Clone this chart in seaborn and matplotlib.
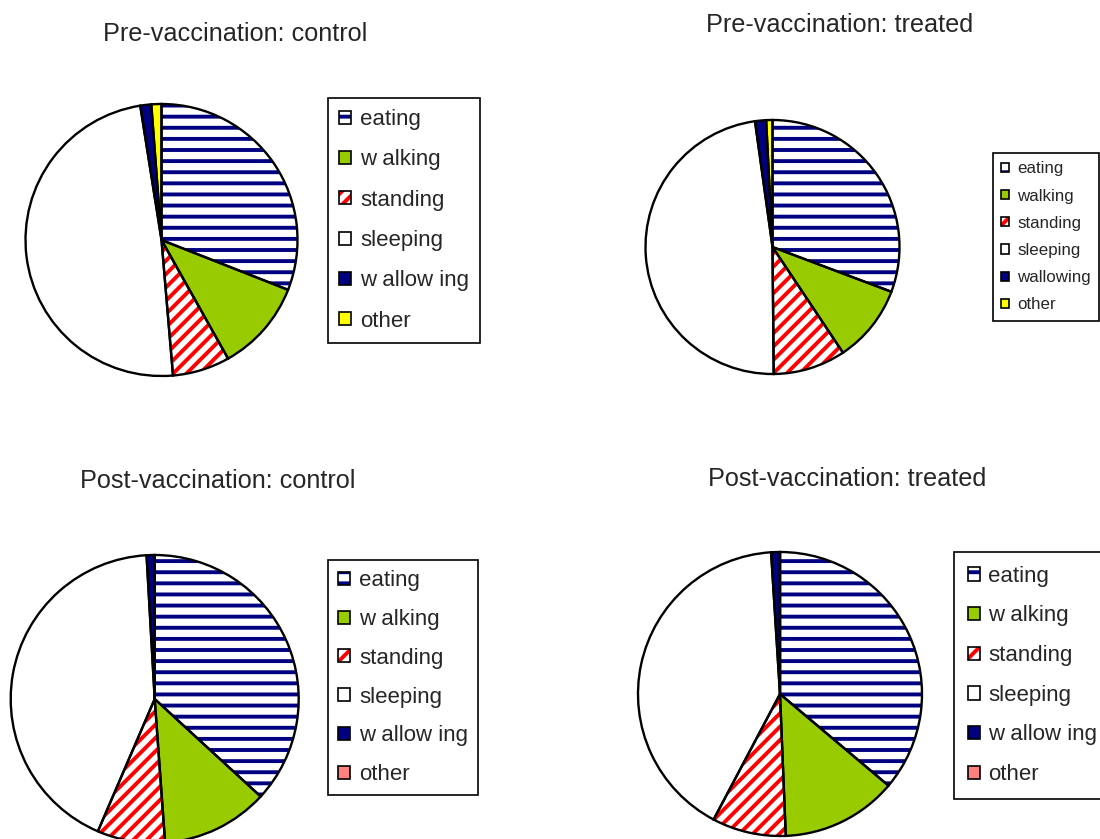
import matplotlib
matplotlib.use("Agg")
import matplotlib.pyplot as plt
import seaborn as sns
from matplotlib.patches import Patch
from matplotlib.legend_handler import HandlerTuple

# --- data (percent of time per behaviour) ---
behaviours = ["eating", "walking", "standing", "sleeping", "wallowing", "other"]
labels_spaced = ["eating", "w alking", "standing", "sleeping", "w allow ing", "other"]

pre_control = [31.0, 10.9, 6.8, 48.9, 1.3, 1.2]
pre_treated = [30.7, 9.9, 9.2, 47.9, 1.4, 0.8]
post_control = [36.8, 12.0, 7.6, 42.6, 0.9, 0.0]
post_treated = [36.2, 13.2, 8.4, 41.3, 1.0, 0.0]

titles = ["Pre-vaccination: control", "Pre-vaccination: treated",
          "Post-vaccination: control", "Post-vaccination: treated"]

# --- style ---
sns.set_theme(style="white")
plt.rcParams["font.family"] = ["Liberation Sans", "DejaVu Sans"]
plt.rcParams["hatch.linewidth"] = 1.4

fills_pre = sns.color_palette(["#FFFFFF", "#99CC00", "#FFFFFF", "#FFFFFF", "#000080", "#FFFF00"])
fills_post = sns.color_palette(["#FFFFFF", "#99CC00", "#FFFFFF", "#FFFFFF", "#000080", "#FF8080"])
hatches = ["---", None, "/////", None, None, None]
hatch_cols = ["#000080", "#99CC00", "#FF0000", "#FFFFFF", "#000080", "#FFFFFF"]

W, H = 1100, 839
fig = plt.figure(figsize=(W / 200, H / 200), dpi=200)


def fx(x, y):
    return x / W, 1 - y / H


def draw_pie(values, fills, cx, cy, r):
    ax = fig.add_axes([(cx - r) / W, 1 - (cy + r) / H, 2 * r / W, 2 * r / H])
    wedges, _ = ax.pie(values, colors=fills, hatch=hatches, startangle=90,
                       counterclock=False, wedgeprops=dict(linewidth=0))
    for w, hc in zip(wedges, hatch_cols):
        w.set_edgecolor(hc)
        w.set_clip_on(False)
    outl, _ = ax.pie(values, colors=["none"] * len(values), startangle=90,
                     counterclock=False,
                     wedgeprops=dict(fill=False, edgecolor="black", linewidth=0.85))
    for w in outl:
        w.set_clip_on(False)
    ax.set_xlim(-1, 1)
    ax.set_ylim(-1, 1)
    ax.set_aspect("equal")
    ax.axis("off")
    return ax


def add_legend(fills, labels, x0, y0, fs, ls, hl, bp, htp):
    handles = []
    for f, h, hc in zip(fills, hatches, hatch_cols):
        p1 = Patch(facecolor=f, edgecolor=hc, hatch=h, linewidth=0)
        p2 = Patch(facecolor="none", edgecolor="black", linewidth=0.6)
        handles.append((p1, p2))
    leg = fig.legend(handles, labels, loc="upper left",
                     bbox_to_anchor=fx(x0, y0), bbox_transform=fig.transFigure,
                     borderaxespad=0, fontsize=fs, labelspacing=ls,
                     handlelength=hl, handleheight=hl, borderpad=bp,
                     handletextpad=htp, fancybox=False, framealpha=1,
                     handler_map={tuple: HandlerTuple(ndivide=1, pad=0)})
    leg.get_frame().set_edgecolor("black")
    leg.get_frame().set_linewidth(0.6)
    return leg


draw_pie(pre_control, fills_pre, 161.5, 240, 136)
draw_pie(pre_treated, fills_pre, 772.5, 247, 127)
draw_pie(post_control, fills_post, 154.7, 699, 144)
draw_pie(post_treated, fills_post, 780, 694, 142)

add_legend(fills_pre, labels_spaced, 328, 98, 8.0, 0.87, 0.52, 0.5, 0.42)
add_legend(fills_pre, behaviours, 993, 153, 6.1, 0.72, 0.45, 0.5, 0.47)
add_legend(fills_post, labels_spaced, 328, 560, 8.0, 0.8, 0.52, 0.46, 0.42)
add_legend(fills_post, labels_spaced, 954, 552, 8.0, 0.84, 0.55, 0.62, 0.38)

# titles (baseline positions)
fig.text(*fx(235, 41), titles[0], ha="center", va="baseline", fontsize=9.1)
fig.text(*fx(840, 31.7), titles[1], ha="center", va="baseline", fontsize=9.1)
fig.text(*fx(218, 488), titles[2], ha="center", va="baseline", fontsize=9.1)
fig.text(*fx(847, 486), titles[3], ha="center", va="baseline", fontsize=9.1)

fig.savefig("out.png", dpi=200, facecolor="white")
